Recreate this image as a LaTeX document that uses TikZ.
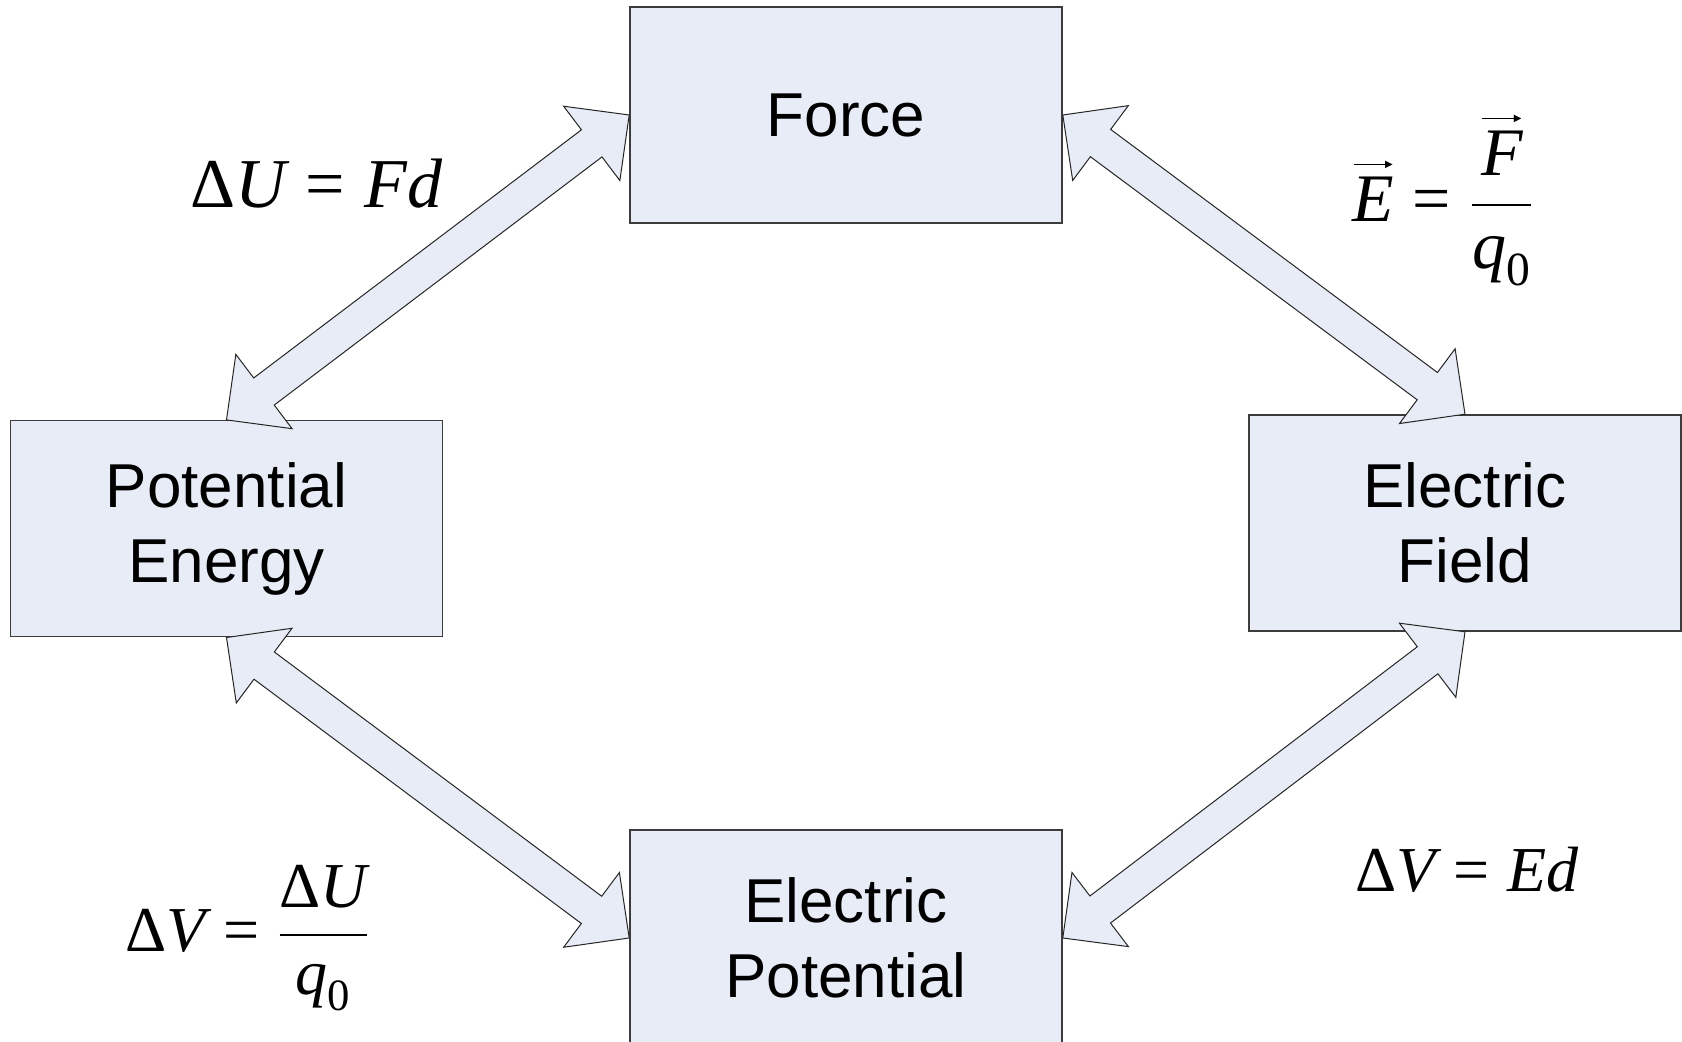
\documentclass[tikz,border=0pt]{standalone}
\usepackage{fix-cm}
\usepackage{amsmath}
\usepackage[no-math]{fontspec}
\setmainfont{Liberation Sans}
\newfontfamily\eqf{Liberation Serif}
\newfontfamily\symf{DejaVu Sans}
\usepackage{tikz}
\usetikzlibrary{calc}

\definecolor{boxfill}{RGB}{231,236,247}
\definecolor{boxline}{RGB}{60,60,60}

\newcommand{\eqi}[1]{\text{\eqf\itshape #1}}
\newcommand{\equ}[1]{\text{\eqf #1}}
\newcommand{\eqs}{\mathrel{\equ{=}}}
% thin vector arrow with a small solid head
\newcommand{\vecbar}{\hbox{\rule[1.1pt]{17pt}{0.75pt}\kern-1.2pt\raisebox{0pt}{\symf\fontsize{5}{5}\selectfont ▶}}}
\newcommand{\vecof}[1]{\overset{\vecbar}{#1}}

\tikzset{
  dblarrow/.style={draw=black!85,fill=boxfill,line width=0.5pt,line join=miter,
    to path={
      -- ($(\tikztostart)!23.5pt!(\tikztotarget)!23.3pt!90:(\tikztotarget)$)
      -- ($(\tikztostart)!23.5pt!(\tikztotarget)!8.5pt!90:(\tikztotarget)$)
      -- ($(\tikztotarget)!23.5pt!(\tikztostart)!8.5pt!-90:(\tikztostart)$)
      -- ($(\tikztotarget)!23.5pt!(\tikztostart)!23.3pt!-90:(\tikztostart)$)
      -- (\tikztotarget)
      -- ($(\tikztotarget)!23.5pt!(\tikztostart)!23.3pt!90:(\tikztostart)$)
      -- ($(\tikztotarget)!23.5pt!(\tikztostart)!8.5pt!90:(\tikztostart)$)
      -- ($(\tikztostart)!23.5pt!(\tikztotarget)!8.5pt!-90:(\tikztotarget)$)
      -- ($(\tikztostart)!23.5pt!(\tikztotarget)!23.3pt!-90:(\tikztotarget)$)
      -- cycle}}
}

\begin{document}
\begin{tikzpicture}[x=0.5pt,y=-0.5pt,
  box/.style={rectangle,draw=boxline,fill=boxfill,line width=0.8pt,minimum width=216pt,minimum height=108pt,inner sep=0pt,align=center,font=\fontsize{31}{37.5}\selectfont},
  eq/.style={anchor=base west,inner sep=0pt}]
\path[use as bounding box,fill=white] (0,0) rectangle (1682,1042);

% the four quantities
\node[box] (force) at (846,115) {Force};
\node[box] (pe) at (226.5,528.7) {Potential\\Energy};
\node[box] (ef) at (1465,523) {Electric\\Field};
\node[box] (ep) at (846,938) {Electric\\Potential};

% two-way block arrows
\draw[dblarrow] (pe.north) to (force.west);
\draw[dblarrow] (force.east) to (ef.north);
\draw[dblarrow] (pe.south) to (ep.west);
\draw[dblarrow] (ef.south) to (ep.east);

% relations
\node[eq,font=\fontsize{35}{42}\selectfont] (ufd) at (190,208) {$\equ{Δ}\eqi{U}\eqs\eqi{Fd}$};
\node[eq,font=\fontsize{34}{40}\selectfont] (efq) at (1352,222) {$\vecof{\eqi{E}}\eqs\dfrac{\vecof{\eqi{F}}}{\eqi{q}_{\equ{0}}}$};
\node[eq,font=\fontsize{32}{38}\selectfont] (vuq) at (125,951) {$\equ{Δ}\eqi{V}\eqs\dfrac{\equ{Δ}\eqi{U}}{\eqi{q}_{\equ{0}}}$};
\node[eq,font=\fontsize{32}{38}\selectfont] (ved) at (1355,891) {$\equ{Δ}\eqi{V}\eqs\eqi{Ed}$};
\end{tikzpicture}
\end{document}
